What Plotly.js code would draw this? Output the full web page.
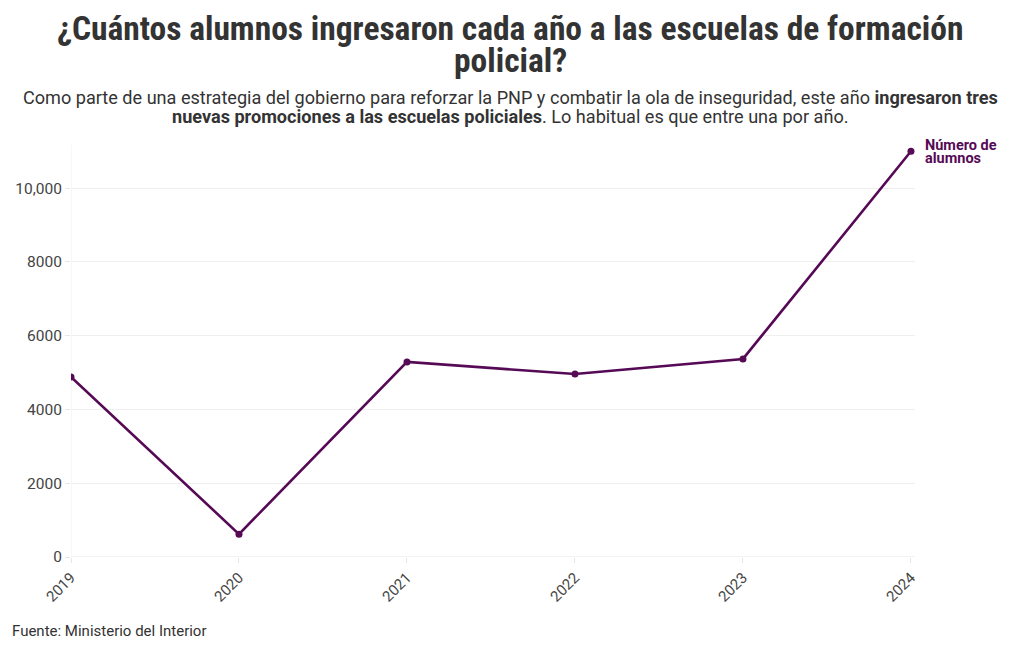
<!DOCTYPE html>
<html><head><meta charset="utf-8">
<script src="https://cdn.plot.ly/plotly-3.0.1.min.js"></script>
<style>body{margin:0;background:#fff}#c{width:1020px;height:650px}</style>
</head><body><div id="c"></div>
<script>
const years = [2019, 2020, 2021, 2022, 2023, 2024];
const alumnos = [4880, 620, 5290, 4960, 5370, 11000];
const yTickVals = [0, 2000, 4000, 6000, 8000, 10000];
const yTickText = ['0', '2000', '4000', '6000', '8000', '10,000'];
const seriesLabel = ['Número de', 'alumnos'];
const titleLines = ['¿Cuántos alumnos ingresaron cada año a las escuelas de formación', 'policial?'];
const subtitleLines = [
  'Como parte de una estrategia del gobierno para reforzar la PNP y combatir la ola de inseguridad, este año <b>ingresaron tres</b>',
  '<b>nuevas promociones a las escuelas policiales</b>. Lo habitual es que entre una por año.'
];
const source = 'Fuente: Ministerio del Interior';
const purple = '#560a56';

const PLOT_TOP = 145, PLOT_LEFT = 71, PLOT_W = 844;
const cx = (1020 / 2 - PLOT_LEFT) / PLOT_W;

const trace = {
  x: years, y: alumnos, type: 'scatter', mode: 'lines+markers',
  line: {color: purple, width: 2.6}, marker: {color: purple, size: 7},
  hoverinfo: 'x+y', showlegend: false
};

const condensed = '"Roboto Condensed", "Liberation Sans Narrow", sans-serif';
const annotations = [];
const titleY = [28, 60];
titleLines.forEach((t, i) => annotations.push({
  text: '<b>' + t + '</b>', xref: 'paper', yref: 'paper', x: cx, y: 1,
  xanchor: 'center', yanchor: 'middle', yshift: PLOT_TOP - titleY[i], showarrow: false,
  font: {family: condensed, size: 33.5, color: '#333'}
}));
const subY = [97, 116];
subtitleLines.forEach((t, i) => annotations.push({
  text: t, xref: 'paper', yref: 'paper', x: cx, y: 1,
  xanchor: 'center', yanchor: 'middle', yshift: PLOT_TOP - subY[i], showarrow: false,
  font: {family: 'Roboto, sans-serif', size: 18.1, color: '#333'}
}));
const labY = [6, -7];
seriesLabel.forEach((t, i) => annotations.push({
  text: '<b>' + t + '</b>', xref: 'x', yref: 'y', x: years[5], y: alumnos[5],
  xanchor: 'left', yanchor: 'middle', xshift: 12, yshift: labY[i], showarrow: false,
  font: {family: 'Roboto, sans-serif', size: 14.5, color: purple}
}));
annotations.push({
  text: source, xref: 'paper', yref: 'paper', x: -(PLOT_LEFT - 10) / PLOT_W, y: 0,
  xanchor: 'left', yanchor: 'middle', yshift: -(631 - 557), showarrow: false,
  font: {family: 'Roboto, sans-serif', size: 15, color: '#333'}
});

const layout = {
  width: 1020, height: 650,
  margin: {l: PLOT_LEFT, r: 1020 - PLOT_LEFT - PLOT_W, t: PLOT_TOP, b: 93},
  paper_bgcolor: '#fff', plot_bgcolor: '#fff',
  font: {family: 'Roboto, sans-serif', color: '#444'},
  xaxis: {
    range: [2019, 2024.024], tickvals: years, ticktext: years.map(String),
    tickangle: -45, showgrid: false, zeroline: false, showline: false,
    ticks: 'outside', ticklen: 5, tickcolor: '#e6e6e6',
    tickfont: {size: 15, color: '#444'}
  },
  yaxis: {
    range: [0, 11170], tickvals: yTickVals, ticktext: yTickText,
    showgrid: true, gridcolor: '#efefef', zeroline: false, showline: false,
    ticks: 'outside', ticklen: 5, tickcolor: '#e6e6e6',
    tickfont: {size: 15.5, color: '#444'}
  },
  shapes: [
    {type: 'line', xref: 'x', yref: 'paper', x0: 2019, x1: 2019, y0: 0, y1: 1, line: {color: '#efefef', width: 1}, layer: 'below'},
    {type: 'line', xref: 'paper', yref: 'y', x0: 0, x1: 1, y0: 0, y1: 0, line: {color: '#e6e6e6', width: 1}, layer: 'below'}
  ],
  annotations: annotations
};
Plotly.newPlot('c', [trace], layout, {displayModeBar: false});
</script></body></html>
